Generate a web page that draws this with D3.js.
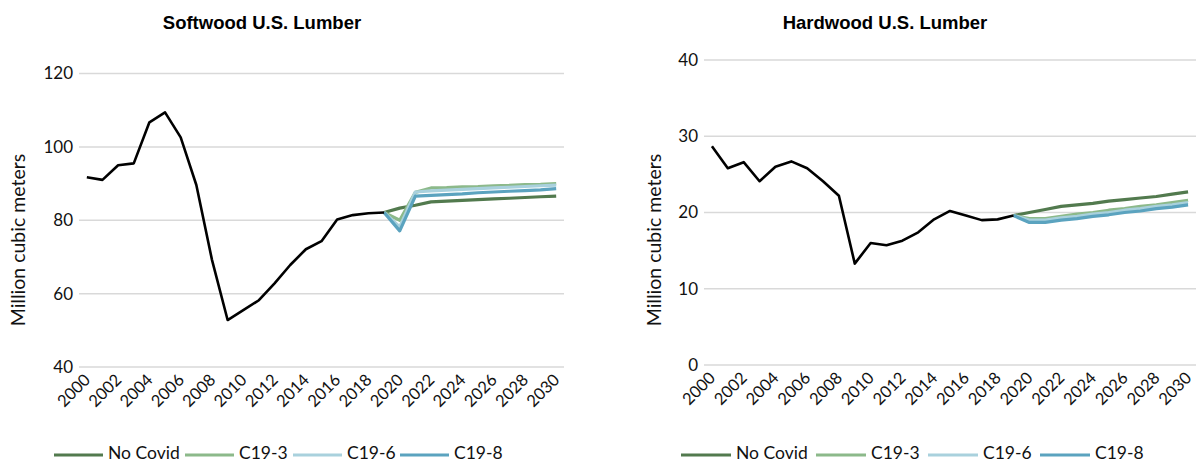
<!DOCTYPE html>
<html>
<head>
<meta charset="utf-8">
<script src="https://cdn.jsdelivr.net/npm/d3@7"></script>
<style>
  html, body { margin: 0; padding: 0; background: #fff; }
  svg { display: block; }
</style>
</head>
<body>
<svg id="chart" width="1197" height="464"></svg>
<script>
// ---------- DATA ----------
const years = d3.range(2000, 2031);
const histYears = d3.range(2000, 2020);
const projYears = d3.range(2019, 2031);
const xTickYears = d3.range(2000, 2031, 2);

const softHistory = [91.7, 91.0, 95.0, 95.5, 106.7, 109.4, 102.6, 89.6, 69.2, 52.8,
                     55.5, 58.2, 62.8, 67.8, 72.1, 74.3, 80.2, 81.4, 81.9, 82.1];
const softNoCovid = [82.1, 83.3, 84.1, 85.0, 85.2, 85.4, 85.6, 85.8, 86.0, 86.2, 86.4, 86.6];
const softC193    = [82.1, 80.0, 87.6, 88.8, 88.9, 89.1, 89.2, 89.4, 89.5, 89.7, 89.8, 90.0];
const softC196    = [82.1, 78.2, 87.7, 88.0, 88.2, 88.4, 88.6, 88.8, 89.0, 89.2, 89.4, 89.6];
const softC198    = [82.1, 77.1, 86.6, 86.8, 87.0, 87.2, 87.5, 87.7, 87.9, 88.1, 88.3, 88.6];
const softTicks = [40, 60, 80, 100, 120];

const hardHistory = [28.7, 25.8, 26.6, 24.1, 26.0, 26.7, 25.8, 24.1, 22.2, 13.3,
                     16.0, 15.7, 16.3, 17.4, 19.1, 20.2, 19.6, 19.0, 19.1, 19.6];
const hardNoCovid = [19.6, 20.0, 20.4, 20.8, 21.0, 21.2, 21.5, 21.7, 21.9, 22.1, 22.4, 22.7];
const hardC193    = [19.6, 19.2, 19.2, 19.5, 19.8, 20.0, 20.3, 20.5, 20.8, 21.0, 21.3, 21.6];
const hardC196    = [19.6, 19.0, 19.0, 19.3, 19.5, 19.8, 20.0, 20.3, 20.5, 20.8, 21.0, 21.3];
const hardC198    = [19.6, 18.7, 18.7, 19.0, 19.2, 19.5, 19.7, 20.0, 20.2, 20.5, 20.7, 21.0];
const hardTicks = [0, 10, 20, 30, 40];

const seriesNames = ["No Covid", "C19-3", "C19-6", "C19-8"];
const seriesColors = ["#527a4e", "#8cb98a", "#a9d1dd", "#5ba3bf"];

// ---------- DRAW ----------
const svg = d3.select("#chart");
const tickFont = "Lato, 'Open Sans', sans-serif";

function drawPanel(cfg) {
  const g = svg.append("g");
  const x = d3.scalePoint().domain(years).range([cfg.x0, cfg.x1]).padding(0.5);
  const y = d3.scaleLinear().domain(cfg.yDomain).range([cfg.yBottom, cfg.yTop]);

  // gridlines
  g.append("g").selectAll("line").data(cfg.ticks).join("line")
    .attr("x1", cfg.x0).attr("x2", cfg.x1)
    .attr("y1", d => y(d)).attr("y2", d => y(d))
    .attr("stroke", "#d9d9d9").attr("stroke-width", 1.5);

  // y axis labels
  const yAxis = d3.axisLeft(y).tickValues(cfg.ticks).tickSize(0).tickPadding(0);
  const ya = g.append("g").attr("transform", `translate(${cfg.x0 - 6},0)`).call(yAxis);
  ya.select(".domain").remove();
  ya.selectAll("text").attr("font-family", tickFont).attr("font-size", 17).attr("fill", "#111");

  // x axis labels
  const xAxis = d3.axisBottom(x).tickValues(xTickYears).tickSize(0).tickPadding(0);
  const xa = g.append("g").attr("transform", `translate(0,${cfg.yBottom})`).call(xAxis);
  xa.select(".domain").remove();
  xa.selectAll("text")
    .attr("font-family", tickFont).attr("font-size", 16.5).attr("fill", "#111")
    .attr("text-anchor", "end").attr("dy", null).attr("y", 0)
    .attr("transform", "translate(1,11) rotate(-45)")
    .attr("dominant-baseline", "middle");

  // y title
  g.append("text")
    .attr("transform", `translate(${cfg.yTitleX},${cfg.yTitleY}) rotate(-90)`)
    .attr("text-anchor", "middle").attr("dominant-baseline", "middle")
    .attr("font-family", tickFont).attr("font-size", 19.5).attr("fill", "#111")
    .text("Million cubic meters");

  // title
  g.append("text")
    .attr("x", cfg.titleX).attr("y", 29)
    .attr("text-anchor", "middle")
    .attr("font-family", "'Liberation Sans', Arial, sans-serif").attr("font-weight", "bold")
    .attr("font-size", 18.5).attr("fill", "#000")
    .text(cfg.title);

  const line = d3.line().x(d => x(d[0])).y(d => y(d[1]));

  // projections
  cfg.proj.forEach((vals, i) => {
    g.append("path")
      .datum(projYears.map((yr, k) => [yr, vals[k]]))
      .attr("d", line).attr("fill", "none")
      .attr("stroke", seriesColors[i]).attr("stroke-width", 3.2)
      .attr("stroke-linejoin", "round");
  });

  // history
  g.append("path")
    .datum(histYears.map((yr, k) => [yr, cfg.hist[k]]))
    .attr("d", line).attr("fill", "none")
    .attr("stroke", "#000").attr("stroke-width", 2.6)
    .attr("stroke-linejoin", "round");

  // legend
  const lg = g.append("g");
  cfg.legendX.forEach((lx, i) => {
    lg.append("line")
      .attr("x1", lx).attr("x2", lx + cfg.legendLen)
      .attr("y1", cfg.legendY).attr("y2", cfg.legendY)
      .attr("stroke", seriesColors[i]).attr("stroke-width", 3.2);
    lg.append("text")
      .attr("x", lx + cfg.legendLen + 5).attr("y", cfg.legendY)
      .attr("dominant-baseline", "middle")
      .attr("font-family", tickFont).attr("font-size", 17.5).attr("fill", "#111")
      .text(seriesNames[i]);
  });
}

drawPanel({
  title: "Softwood U.S. Lumber", titleX: 262,
  x0: 79, x1: 564, yTop: 73.5, yBottom: 367, yDomain: [40, 120],
  ticks: softTicks, yTitleX: 20, yTitleY: 240,
  hist: softHistory, proj: [softNoCovid, softC193, softC196, softC198],
  legendX: [54, 185, 293, 400], legendLen: 49, legendY: 455
});

drawPanel({
  title: "Hardwood U.S. Lumber", titleX: 885,
  x0: 704, x1: 1196, yTop: 60, yBottom: 365, yDomain: [0, 40],
  ticks: hardTicks, yTitleX: 656, yTitleY: 240,
  hist: hardHistory, proj: [hardNoCovid, hardC193, hardC196, hardC198],
  legendX: [681, 816, 928, 1040], legendLen: 50, legendY: 455
});
</script>
</body>
</html>
